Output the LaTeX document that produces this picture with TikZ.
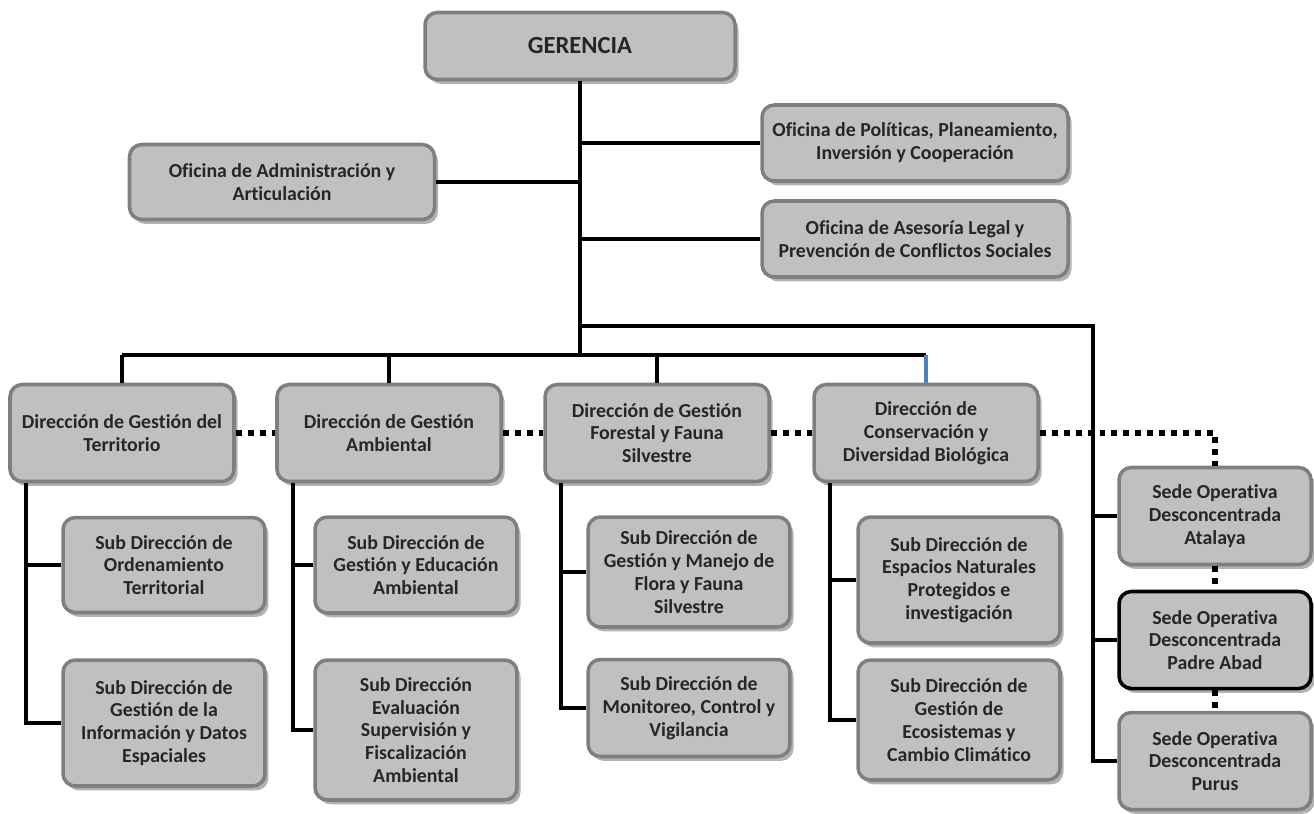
\documentclass[tikz,border=0pt]{standalone}
\usepackage{fontspec}
\setmainfont{Carlito}[Ligatures=NoCommon]
\usetikzlibrary{shadows,calc}

\definecolor{boxfill}{RGB}{192,192,192}
\definecolor{boxedge}{RGB}{127,127,127}
\definecolor{boxtext}{RGB}{38,38,38}
\definecolor{linkblue}{RGB}{79,129,189}

\begin{document}
\begin{tikzpicture}[
x=0.02cm, y=-0.02cm,
box/.style={draw=boxedge, line width=2pt, fill=boxfill, rounded corners=7pt, align=center, text=boxtext, inner sep=2pt,
  font=\fontsize{11.3}{13}\selectfont\bfseries,
  drop shadow={shadow xshift=2pt, shadow yshift=-2.5pt, fill=black, opacity=0.3}},
wh/.style 2 args={minimum width=#1*0.02cm, minimum height=#2*0.02cm},
dirbox/.style={box, wh={224}{97}},
subbox/.style={box, minimum width=4.04cm},
sedebox/.style={box, wh={192}{97}},
link/.style={line width=2.2pt, black},
dotline/.style={line width=3.4pt, black, dash pattern=on 3.4pt off 3.4pt}
]
\useasboundingbox (0,0) rectangle (1314,814);

% top offices
\node[box, wh={310}{67}, font=\fontsize{14}{16}\selectfont\bfseries] (ger) at (580,46) {GERENCIA};
\node[box, wh={305}{75}] (adm) at (282,182) {Oficina de Administración y\\Articulación};
\node[box, wh={306}{76}] (pol) at (915,143) {Oficina de Políticas, Planeamiento,\\Inversión y Cooperación};
\node[box, wh={306}{76}] (ase) at (915,239) {Oficina de Asesoría Legal y\\Prevención de Conflictos Sociales};

% directions
\node[dirbox] (d1) at (122,433) {Dirección de Gestión del\\Territorio};
\node[dirbox] (d2) at (389,433) {Dirección de Gestión\\Ambiental};
\node[dirbox] (d3) at (657,433) {Dirección de Gestión\\Forestal y Fauna\\Silvestre};
\node[dirbox] (d4) at (926,433) {Dirección de\\Conservación y\\Diversidad Biológica};

% sub directions
\node[subbox, minimum height=1.9cm] (s11) at (164,565) {Sub Dirección de\\Ordenamiento\\Territorial};
\node[subbox, minimum height=2.52cm] (s12) at (164,723) {Sub Dirección de\\Gestión de la\\Información y Datos\\Espaciales};
\node[subbox, minimum height=1.92cm] (s21) at (416,565) {Sub Dirección de\\Gestión y Educación\\Ambiental};
\node[subbox, minimum height=2.8cm] (s22) at (416,730) {Sub Dirección\\Evaluación\\Supervisión y\\Fiscalización\\Ambiental};
\node[subbox, minimum height=2.2cm] (s31) at (689,572) {Sub Dirección de\\Gestión y Manejo de\\Flora y Fauna\\Silvestre};
\node[subbox, minimum height=1.94cm] (s32) at (689,708) {Sub Dirección de\\Monitoreo, Control y\\Vigilancia};
\node[subbox, minimum height=2.52cm] (s41) at (959,580) {Sub Dirección de\\Espacios Naturales\\Protegidos e\\investigación};
\node[subbox, minimum height=2.4cm] (s42) at (959,720) {Sub Dirección de\\Gestión de\\Ecosistemas y\\Cambio Climático};

% sedes
\node[sedebox] (ata) at (1215,516) {Sede Operativa\\Desconcentrada\\Atalaya};
\node[sedebox, draw=black] (pad) at (1215,640) {Sede Operativa\\Desconcentrada\\Padre Abad};
\node[sedebox] (pur) at (1215,761) {Sede Operativa\\Desconcentrada\\Purus};

\coordinate (bus) at (580,355);
\coordinate (busR) at (1093,326);

\draw[link] (ger.south) -- (bus);
\draw[link] (ger.south |- adm.east) -- (adm.east);
\draw[link] (ger.south |- pol.west) -- (pol.west);
\draw[link] (ger.south |- ase.west) -- (ase.west);
\draw[link] (ger.south |- busR) -- (busR) -- (busR |- pur.west) -- (pur.west);
\draw[link] (busR |- ata.west) -- (ata.west);
\draw[link] (busR |- pad.west) -- (pad.west);

\draw[link] (d1.north |- bus) -- (d4.north |- bus);
\foreach \d in {d1,d2,d3}
  \draw[link] (\d.north) -- (\d.north |- bus);
\draw[link, draw=linkblue] (d4.north) -- (d4.north |- bus);

\foreach \d/\a/\b in {d1/s11/s12, d2/s21/s22, d3/s31/s32, d4/s41/s42} {
  \draw[link] ([xshift=0.36cm]\d.south west) |- (\a.west);
  \draw[link] ([xshift=0.36cm]\d.south west) |- (\b.west);
}

\draw[dotline] (d1.east) -- (d2.west);
\draw[dotline] (d2.east) -- (d3.west);
\draw[dotline] (d3.east) -- (d4.west);
\draw[dotline] (d4.east) -| (ata.north);
\draw[dotline] (ata.south) -- (pad.north);
\draw[dotline] (pad.south) -- (pur.north);
\end{tikzpicture}
\end{document}
